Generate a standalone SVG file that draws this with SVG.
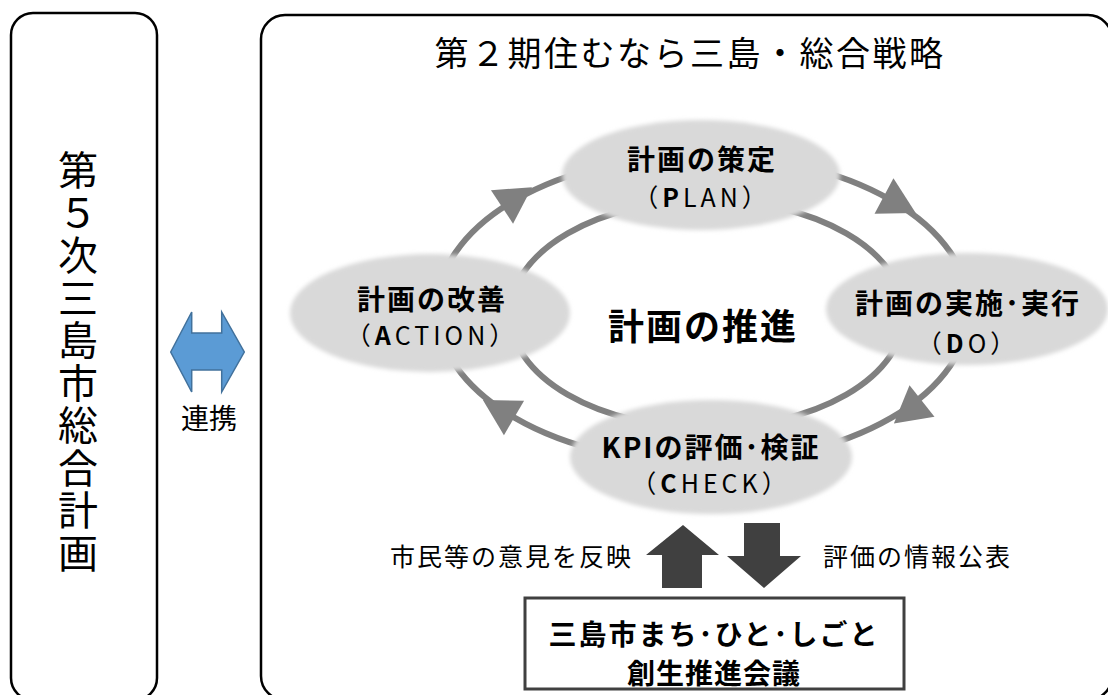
<svg xmlns="http://www.w3.org/2000/svg" width="1108" height="695" viewBox="0 0 1108 695">
<style>
.box{fill:#fff;stroke:#000;stroke-width:2.5}
.jp{font-family:"Noto Sans CJK JP","Noto Sans",sans-serif;fill:#000}
.lbl{font-size:28px;font-weight:bold;text-anchor:middle;letter-spacing:2px}
.sub{font-size:25px;font-weight:normal;text-anchor:middle;letter-spacing:4px}
.ring{fill:none;stroke:#808080;stroke-width:6}
.node{fill:#d9d9d9;filter:url(#soft)}
.side{font-size:25px;letter-spacing:2px}
.dark{fill:#404040}
</style>
<defs>
<filter id="soft" x="-10%" y="-10%" width="120%" height="120%"><feGaussianBlur stdDeviation="2"/></filter>
<polygon id="ah" points="0,-20 36,0 0,20" fill="#808080"/>
</defs>

<g id="plan5">
<rect class="box" x="11" y="13" width="146" height="687" rx="22"/>
<text class="jp" x="78" y="150" font-size="40" letter-spacing="2.5" writing-mode="vertical-rl" style="text-orientation:upright">第５次三島市総合計画</text>
</g>

<g id="strategy">
<rect class="box" x="261" y="15" width="851" height="685" rx="24"/>
<text class="jp" x="690" y="51" font-size="34" letter-spacing="2.5" text-anchor="middle" dominant-baseline="central">第２期住むなら三島・総合戦略</text>
</g>

<g id="connectors">
<path d="M170.7,352 L191.7,312 L191.7,333 L221.7,333 L221.7,312 L244.3,352 L221.7,392 L221.7,370 L191.7,370 L191.7,392 Z" fill="#5b9bd5" stroke="#41719c" stroke-width="1.5"/>
<ellipse class="ring" cx="703" cy="309" rx="266" ry="154"/>
<ellipse class="ring" cx="707" cy="314" rx="197" ry="114"/>
<use href="#ah" transform="translate(502,207) rotate(-33.5)"/>
<use href="#ah" transform="translate(884,196) rotate(28.2)"/>
<use href="#ah" transform="translate(922,401) rotate(141.4)"/>
<use href="#ah" transform="translate(514,418) rotate(210.2)"/>
<polygon class="dark" points="683,525 719,555 702,555 702,588 662,588 662,555 646,555"/>
<polygon class="dark" points="764,588 801,556 780,556 780,523 744,523 744,556 727,556"/>
</g>

<g id="renkei">
<text class="jp" x="209" y="417" font-size="28" text-anchor="middle" dominant-baseline="central">連携</text>
</g>

<g id="node-plan">
<ellipse class="node" cx="701" cy="175" rx="139" ry="55"/>
<text class="jp lbl" x="702" y="158" dominant-baseline="central">計画の策定</text>
<text class="jp sub" x="702" y="196" dominant-baseline="central">（<tspan font-weight="bold">P</tspan>LAN）</text>
</g>

<g id="node-do">
<ellipse class="node" cx="967" cy="309" rx="141" ry="56"/>
<text class="jp lbl" x="968" y="302" dominant-baseline="central">計画の実施･実行</text>
<text class="jp sub" x="968" y="342" dominant-baseline="central">（<tspan font-weight="bold">D</tspan>O）</text>
</g>

<g id="node-check">
<ellipse class="node" cx="711" cy="457" rx="141" ry="57"/>
<text class="jp lbl" x="711" y="446" dominant-baseline="central">KPIの評価･検証</text>
<text class="jp sub" x="711" y="482" dominant-baseline="central">（<tspan font-weight="bold">C</tspan>HECK）</text>
</g>

<g id="node-action">
<ellipse class="node" cx="430" cy="313" rx="140" ry="59"/>
<text class="jp lbl" x="432" y="298" dominant-baseline="central">計画の改善</text>
<text class="jp sub" x="432" y="334" dominant-baseline="central">（<tspan font-weight="bold">A</tspan>CTION）</text>
</g>

<g id="center">
<text class="jp" x="703" y="324" font-size="36" font-weight="bold" text-anchor="middle" letter-spacing="2" dominant-baseline="central">計画の推進</text>
</g>

<g id="side-labels">
<text class="jp side" x="633" y="555" text-anchor="end" dominant-baseline="central">市民等の意見を反映</text>
<text class="jp side" x="823" y="555" dominant-baseline="central">評価の情報公表</text>
</g>

<g id="council">
<rect x="525" y="598" width="379" height="91" fill="#fff" stroke="#404040" stroke-width="3"/>
<text class="jp" x="714" y="633" font-size="28" font-weight="bold" letter-spacing="2" text-anchor="middle" dominant-baseline="central">三島市まち･ひと･しごと</text>
<text class="jp" x="714" y="672" font-size="28" font-weight="bold" letter-spacing="1" text-anchor="middle" dominant-baseline="central">創生推進会議</text>
</g>
</svg>
